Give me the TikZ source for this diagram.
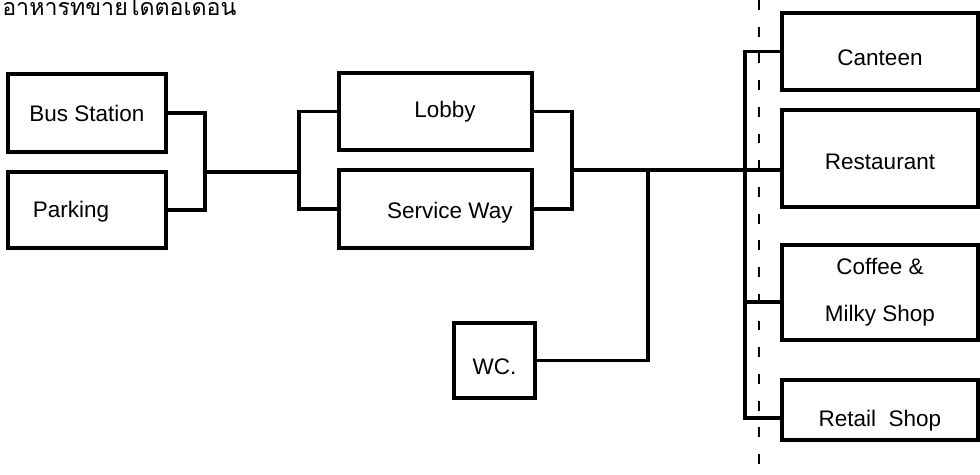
\documentclass[tikz,border=0pt]{standalone}
\usepackage{fontspec}
\setmainfont{Liberation Sans}
\newfontfamily\thaifont[Script=Thai]{Loma}
\usetikzlibrary{positioning,calc}

\tikzset{
  lbl/.style={font=\fontsize{16}{18}\selectfont},
  box/.style={draw,line width=2.8pt,rectangle,inner sep=0pt,lbl},
  wire/.style={line width=2.3pt,line join=miter}
}

\begin{document}
\begin{tikzpicture}[x=0.025cm,y=-0.025cm]
  \useasboundingbox (0,0) rectangle (980,474);
  % --- title (thai) ---
  \node[anchor=base west,inner sep=0pt,font=\thaifont\fontsize{16.5}{18}\selectfont] (title) at (2,15) {อาหารทขายไดตอเดอน};
  % --- left boxes ---
  \node[box,minimum width=3.95cm,minimum height=1.95cm] (bus) at (87,113) {Bus Station};
  \node[box,minimum width=3.95cm,minimum height=1.9cm,
        label={[xshift=-0.4cm,yshift=-0.03cm,lbl]center:Parking}] (park) at (87,210) {};
  % --- middle boxes ---
  \node[box,minimum width=4.825cm,minimum height=1.925cm,
        label={[xshift=0.24cm,lbl]center:Lobby}] (lobby) at (435.5,111.5) {};
  \node[box,minimum width=4.825cm,minimum height=1.95cm,
        label={[xshift=0.36cm,yshift=-0.1cm,lbl]center:Service Way}] (sway) at (435.5,209) {};
  \node[box,minimum width=2.025cm,minimum height=1.875cm,text height=20pt,text depth=0pt] (wc) at (494.5,360.5) {WC.};
  % --- right boxes ---
  \node[box,minimum width=4.9cm,minimum height=1.925cm,text height=20pt,text depth=0pt] (cant) at (880,51.5) {Canteen};
  \node[box,minimum width=4.9cm,minimum height=2.425cm,text height=15pt,text depth=0pt] (rest) at (880,158.5) {Restaurant};
  \node[box,minimum width=4.9cm,minimum height=2.375cm,align=center] (coff) at (880,292.5) {Coffee \&\\[0.55cm]Milky Shop};
  \node[box,minimum width=4.9cm,minimum height=1.5cm,text height=23pt,text depth=0pt] (ret) at (880,410) {Retail\ \ Shop};
  % --- junction points ---
  \coordinate (ja) at (205,172);
  \coordinate (jb) at (299,172);
  \coordinate (jc) at (572,170);
  \coordinate (jd) at (648,170);
  \coordinate (kc) at (745,302);
  \coordinate (kr) at (745,418);
  % --- connectors ---
  \draw[wire] (bus.east) -| (ja) |- (park.east);
  \draw[wire] (ja) -- (jb);
  \draw[wire] (lobby.west) -| (jb) |- (sway.west);
  \draw[wire] (lobby.east) -| (jc) |- (sway.east);
  \draw[wire] (jc) -- (jc -| rest.west);
  \draw[wire] (jd) |- (wc.east);
  \draw[wire] (cant.west) -| (kr) -- (kr -| ret.west);
  \draw[wire] (kc) -- (kc -| coff.west);
  % --- dashed line ---
  \draw[line width=0.9pt,dash pattern=on 7pt off 12pt] (759,0) -- (759,474);
\end{tikzpicture}
\end{document}
